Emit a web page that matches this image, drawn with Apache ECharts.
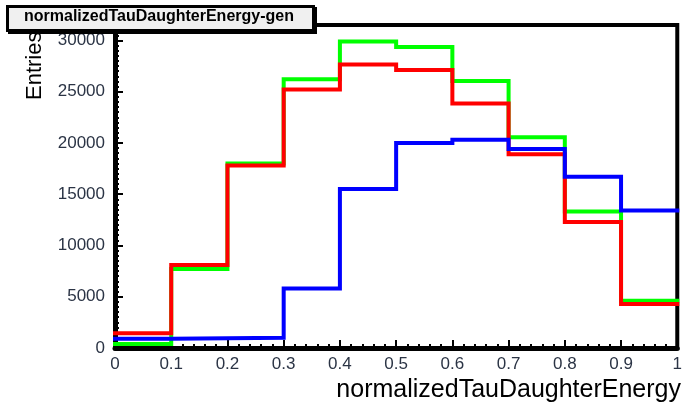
<!DOCTYPE html>
<html>
<head>
<meta charset="utf-8">
<script src="https://cdn.jsdelivr.net/npm/echarts@6/dist/echarts.min.js"></script>
<style>
html,body{margin:0;padding:0;background:#fff;}
#c{width:685px;height:412px;}
</style>
</head>
<body>
<div id="c"></div>
<script>
// Bin left edges
var binEdges = [0, 0.1, 0.2, 0.3, 0.4, 0.5, 0.6, 0.7, 0.8, 0.9, 1.0];
// Entries per bin
var greenVals = [400, 7700, 18000, 26200, 29900, 29350, 26050, 20550, 13300, 4600];
var redVals   = [1450, 8100, 17800, 25200, 27650, 27100, 23850, 18900, 12300, 4300];
var blueVals  = [900, 950, 1000, 5800, 15500, 20000, 20300, 19400, 16700, 13400];
var yTicks = [0, 5000, 10000, 15000, 20000, 25000, 30000];
var xTickLabels = ['0','0.1','0.2','0.3','0.4','0.5','0.6','0.7','0.8','0.9','1'];

function stepData(vals) {
  var d = [];
  for (var i = 0; i < vals.length; i++) d.push([binEdges[i], vals[i]]);
  d.push([binEdges[vals.length], vals[vals.length - 1]]);
  return d;
}

var chart = echarts.init(document.getElementById('c'), null, {renderer: 'canvas'});
var font = 'Liberation Sans, Arial, sans-serif';
function mkSeries(name, vals, color) {
  return {
    name: name, type: 'line', step: 'end', data: stepData(vals),
    symbol: 'none', animation: false,
    lineStyle: {color: color, width: 4, cap: 'square', join: 'miter'}
  };
}
chart.setOption({
  animation: false,
  grid: {left: 115, right: 4, top: 25, bottom: 64, show: true, borderColor: '#000', borderWidth: 4},
  xAxis: {
    type: 'value', min: 0, max: 1, interval: 0.1,
    axisLine: {show: true, onZero: false, lineStyle: {color: '#000', width: 5}},
    axisTick: {show: true, inside: true, length: 8, lineStyle: {color: '#000', width: 2}},
    minorTick: {show: true, splitNumber: 5, length: 4, lineStyle: {color: '#000', width: 2}},
    splitLine: {show: false},
    axisLabel: {
      fontFamily: font, fontSize: 17, color: '#2b3445', margin: 8,
      formatter: function (v) { return xTickLabels[Math.round(v * 10)]; }
    }
  },
  yAxis: {
    type: 'value', min: 0, max: 31500, interval: 5000,
    axisLine: {show: true, lineStyle: {color: '#000', width: 5}},
    axisTick: {show: true, inside: true, length: 8, lineStyle: {color: '#000', width: 2}},
    minorTick: {show: true, splitNumber: 10, length: 4, lineStyle: {color: '#000', width: 2}},
    splitLine: {show: false},
    axisLabel: {
      fontFamily: font, fontSize: 17, color: '#2b3445', margin: 10, showMaxLabel: false,
      formatter: function (v) { return yTicks.indexOf(v) >= 0 ? String(v) : ''; }
    }
  },
  series: [
    mkSeries('green', greenVals, '#00ff00'),
    mkSeries('red', redVals, '#ff0000'),
    mkSeries('blue', blueVals, '#0000ff')
  ],
  graphic: [
    {type: 'rect', left: 8, top: 7, shape: {width: 309, height: 27}, style: {fill: '#000'}, z: 100},
    {type: 'rect', left: 6, top: 5, shape: {width: 306, height: 24}, style: {fill: '#f0f0f0', stroke: '#000', lineWidth: 3}, z: 101},
    {type: 'text', left: 24, top: 9, style: {text: 'normalizedTauDaughterEnergy-gen', font: 'bold 16px ' + font, fill: '#000'}, z: 102},
    {type: 'text', x: 24, y: 100, rotation: Math.PI / 2, style: {text: 'Entries', font: '22px ' + font, fill: '#000', align: 'left', verticalAlign: 'top'}, z: 102},
    {type: 'text', right: 4, top: 378, style: {text: 'normalizedTauDaughterEnergy', font: '25px ' + font, fill: '#000'}, z: 102}
  ]
});
</script>
</body>
</html>
